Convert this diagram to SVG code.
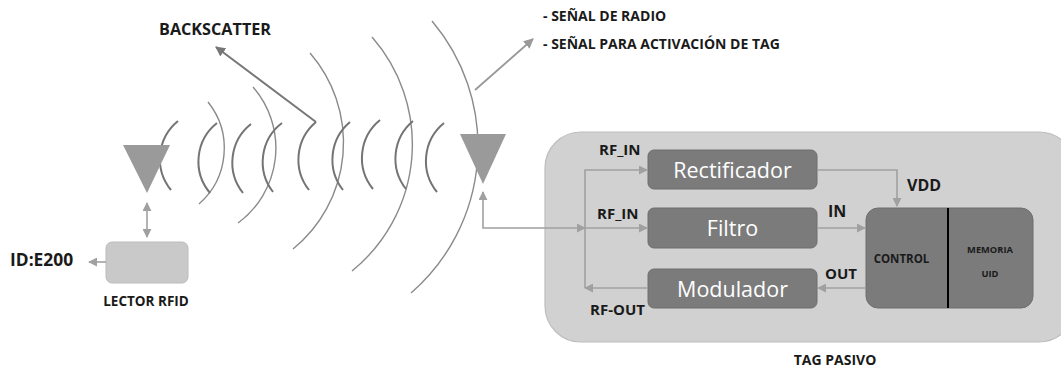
<svg xmlns="http://www.w3.org/2000/svg" width="1061" height="374" viewBox="0 0 1061 374">
  <style>
    .lbl { font-family: "Open Sans", "Liberation Sans", sans-serif; font-weight: 700; fill: #1a1a1a; }
    .blk { fill: #7b7b7b; stroke: #6e6e6e; stroke-width: 1; }
    .blktxt { font-family: "Open Sans", "Liberation Sans", sans-serif; font-size: 21.5px; fill: #ffffff; text-anchor: middle; }
    .wave { fill: none; stroke: #747474; stroke-width: 2; }
    .ring { fill: none; stroke: #8a8a8a; stroke-width: 1.4; }
    .ant { fill: #9a9a9a; }
    .wire { fill: none; stroke: #a0a0a0; stroke-width: 1.6; }
  </style>
  <defs>
    <marker id="ah" viewBox="0 0 10 10" refX="9" refY="5" markerWidth="9" markerHeight="9" markerUnits="userSpaceOnUse" orient="auto-start-reverse">
      <path d="M0,0 L10,5 L0,10 z" fill="#a0a0a0"/>
    </marker>
    <marker id="ahd" viewBox="0 0 10 10" refX="9" refY="5" markerWidth="10" markerHeight="10" markerUnits="userSpaceOnUse" orient="auto">
      <path d="M0,0 L10,5 L0,10 z" fill="#777777"/>
    </marker>
    <marker id="ahs" viewBox="0 0 10 10" refX="9" refY="5" markerWidth="10" markerHeight="10" markerUnits="userSpaceOnUse" orient="auto">
      <path d="M0,0 L10,5 L0,10 z" fill="#999999"/>
    </marker>
  </defs>

  <rect width="1061" height="374" fill="#ffffff"/>

  <!-- outgoing radio waves (large arcs) -->
  <g id="rings">
    <path class="ring" d="M 208 102 A 74 74 0 0 1 199 204"/>
    <path class="ring" d="M 253 87 A 93 93 0 0 1 238 223"/>
    <path class="ring" d="M 310 53 A 137 137 0 0 1 293 249"/>
    <path class="ring" d="M 372 37 A 163 163 0 0 1 352 271"/>
    <path class="ring" d="M 432 21 A 194 194 0 0 1 411 293"/>
  </g>

  <!-- returning backscatter waves (small arcs) -->
  <g id="waves">
    <path class="wave" d="M 178 121 A 49 49 0 0 0 171 190"/>
    <path class="wave" d="M 217 123 A 49 49 0 0 0 210 193"/>
    <path class="wave" d="M 251 124 A 49 49 0 0 0 243 193"/>
    <path class="wave" d="M 282 123 A 49 49 0 0 0 273 192"/>
    <path class="wave" d="M 316 122 A 49 49 0 0 0 309 190"/>
    <path class="wave" d="M 350 122 A 49 49 0 0 0 343 190"/>
    <path class="wave" d="M 380 120 A 49 49 0 0 0 373 189"/>
    <path class="wave" d="M 413 121 A 49 49 0 0 0 406 189"/>
    <path class="wave" d="M 444 123 A 49 49 0 0 0 437 192"/>
  </g>

  <!-- tag housing -->
  <g id="tag">
    <rect x="545" y="132" width="530" height="210" rx="36" ry="36" fill="#d1d1d1" stroke="#bdbdbd" stroke-width="1.2"/>
    <text class="lbl" x="835" y="365" font-size="14" text-anchor="middle">TAG PASIVO</text>
  </g>

  <!-- antennas -->
  <g id="reader-antenna">
    <polygon class="ant" points="123,145 170,145 147,193"/>
  </g>
  <g id="tag-antenna">
    <polygon class="ant" points="460,134 506,134 483,184"/>
  </g>

  <!-- reader -->
  <g id="reader">
    <rect x="106" y="242" width="82" height="41" rx="6" ry="6" fill="#c9c9c9" stroke="#bcbcbc" stroke-width="1"/>
    <text class="lbl" x="146" y="306" font-size="13.5" text-anchor="middle">LECTOR RFID</text>
  </g>
  <g id="id-label">
    <text class="lbl" x="10" y="266" font-size="17.4">ID:E200</text>
  </g>
  <g id="backscatter-label">
    <text class="lbl" x="159" y="35" font-size="16.2">BACKSCATTER</text>
  </g>
  <g id="signal-label">
    <text class="lbl" x="543" y="21" font-size="14">- SEÑAL DE RADIO</text>
    <text class="lbl" x="543" y="49" font-size="14">- SEÑAL PARA ACTIVACIÓN DE TAG</text>
  </g>

  <!-- tag circuit blocks -->
  <g id="rectificador">
    <rect class="blk" x="648" y="150" width="169" height="39" rx="6" ry="6"/>
    <text class="blktxt" x="732.5" y="177.5">Rectificador</text>
  </g>
  <g id="filtro">
    <rect class="blk" x="648" y="208" width="169" height="40" rx="6" ry="6"/>
    <text class="blktxt" x="732.5" y="235.5">Filtro</text>
  </g>
  <g id="modulador">
    <rect class="blk" x="648" y="269" width="169" height="39" rx="6" ry="6"/>
    <text class="blktxt" x="732.5" y="296.5">Modulador</text>
  </g>
  <g id="control">
    <rect class="blk" x="866" y="208" width="167" height="100" rx="12" ry="12"/>
    <line x1="948" y1="208" x2="948" y2="308" stroke="#000000" stroke-width="2"/>
    <text class="lbl" x="901.5" y="263" font-size="11.5" text-anchor="middle" fill="#222">CONTROL</text>
    <text class="lbl" x="990" y="253" font-size="9.3" text-anchor="middle" fill="#222">MEMORIA</text>
    <text class="lbl" x="990" y="277" font-size="9.3" text-anchor="middle" fill="#222">UID</text>
  </g>

  <!-- port labels -->
  <g id="port-labels">
    <text class="lbl" x="599" y="155" font-size="15">RF_IN</text>
    <text class="lbl" x="597" y="219" font-size="15">RF_IN</text>
    <text class="lbl" x="590" y="315" font-size="15">RF-OUT</text>
    <text class="lbl" x="907" y="191" font-size="16">VDD</text>
    <text class="lbl" x="828" y="217" font-size="16">IN</text>
    <text class="lbl" x="825" y="279" font-size="15">OUT</text>
  </g>

  <!-- connectors -->
  <g id="connectors">
    <path class="wire" d="M 147 203 L 147 237" marker-start="url(#ah)" marker-end="url(#ah)"/>
    <path class="wire" d="M 106 262 L 89 262" marker-end="url(#ah)"/>
    <path d="M 316 122 L 216 47" fill="none" stroke="#777777" stroke-width="2" marker-end="url(#ahd)"/>
    <path d="M 475 90 L 533 39" fill="none" stroke="#999999" stroke-width="1.8" marker-end="url(#ahs)"/>
    <path class="wire" d="M 483 192 L 483 228 L 585 228" marker-start="url(#ah)" marker-end="url(#ah)"/>
    <path class="wire" d="M 585 228 L 647 228" marker-end="url(#ah)"/>
    <path class="wire" d="M 585 288 L 585 170 L 647 170" marker-end="url(#ah)"/>
    <path class="wire" d="M 648 288 L 585 288" marker-end="url(#ah)"/>
    <path class="wire" d="M 817 170 L 897 170 L 897 206" marker-end="url(#ah)"/>
    <path class="wire" d="M 817 228 L 865 228" marker-end="url(#ah)"/>
    <path class="wire" d="M 866 288 L 818 288" marker-end="url(#ah)"/>
  </g>
</svg>
